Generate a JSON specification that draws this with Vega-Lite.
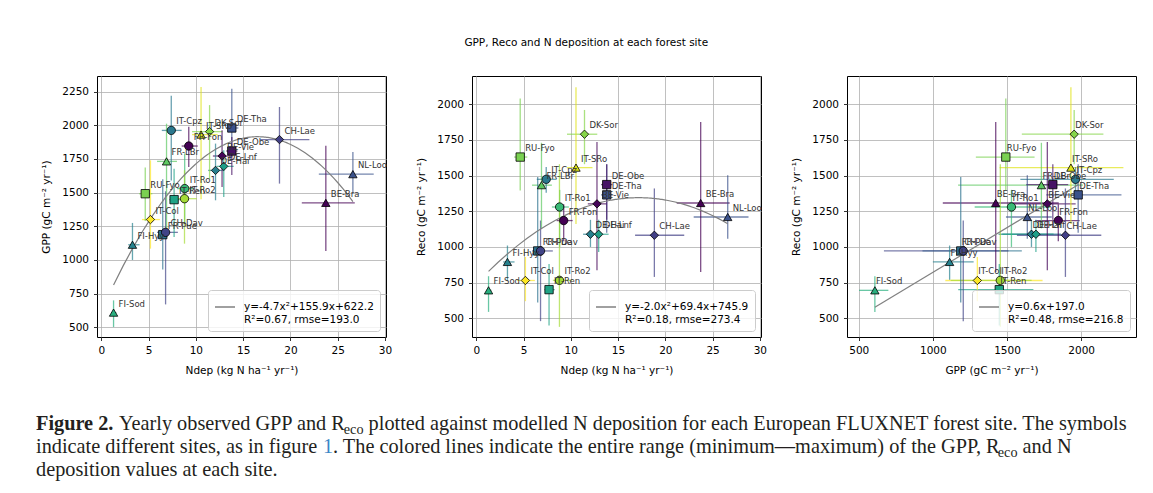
{
  "$schema": "https://vega.github.io/schema/vega-lite/v6.json",
  "autosize": {"type": "pad"},
  "padding": {"left": 36, "top": 38, "right": 5, "bottom": 5},
  "background": "white",
  "title": {"text": "GPP, Reco and N deposition at each forest site", "anchor": "middle", "frame": "bounds", "offset": 27, "fontSize": 10.5, "font": "DejaVu Sans", "fontWeight": "normal", "color": "#000"},
  "datasets": {
    "sites": [
      {"site": "FI-Sod", "ndep": 1.3, "nmin": 1.05, "nmax": 1.6, "gpp": 609, "gmin": 502, "gmax": 700, "reco": 696, "rmin": 545, "rmax": 795},
      {"site": "FI-Hyy", "ndep": 3.3, "nmin": 2.85, "nmax": 4.05, "gpp": 1113, "gmin": 1000, "gmax": 1275, "reco": 895, "rmin": 770, "rmax": 1010},
      {"site": "IT-Col", "ndep": 5.2, "nmin": 4.3, "nmax": 6.2, "gpp": 1300, "gmin": 1084, "gmax": 1740, "reco": 765, "rmin": 620, "rmax": 930},
      {"site": "RU-Fyo", "ndep": 4.65, "nmin": 4.0, "nmax": 5.4, "gpp": 1492, "gmin": 1290, "gmax": 1686, "reco": 1630, "rmin": 1395, "rmax": 2040},
      {"site": "FR-Pue", "ndep": 6.5, "nmin": 6.0, "nmax": 7.0, "gpp": 1188, "gmin": 930, "gmax": 1600, "reco": 972, "rmin": 610, "rmax": 1490},
      {"site": "CH-Dav", "ndep": 6.8, "nmin": 5.9, "nmax": 8.1, "gpp": 1205, "gmin": 670, "gmax": 1510, "reco": 972, "rmin": 480, "rmax": 1185},
      {"site": "IT-Cpz", "ndep": 7.4, "nmin": 6.4, "nmax": 8.5, "gpp": 1962, "gmin": 1590, "gmax": 2220, "reco": 1474, "rmin": 1380, "rmax": 1560},
      {"site": "FR-LBr", "ndep": 6.9, "nmin": 5.9, "nmax": 8.0, "gpp": 1732, "gmin": 1170, "gmax": 2012, "reco": 1433, "rmin": 1130, "rmax": 1730},
      {"site": "IT-SRo", "ndep": 10.55, "nmin": 9.6, "nmax": 12.3, "gpp": 1931, "gmin": 1450, "gmax": 2285, "reco": 1556, "rmin": 1160, "rmax": 2120},
      {"site": "DK-Sor", "ndep": 11.45, "nmin": 9.6, "nmax": 12.8, "gpp": 1953, "gmin": 1600, "gmax": 2150, "reco": 1790, "rmin": 1580, "rmax": 1960},
      {"site": "FR-Fon", "ndep": 9.25, "nmin": 8.5, "nmax": 10.2, "gpp": 1846, "gmin": 1690, "gmax": 1990, "reco": 1185, "rmin": 1040, "rmax": 1300},
      {"site": "DE-Tha", "ndep": 13.8, "nmin": 13.2, "nmax": 14.5, "gpp": 1980, "gmin": 1765, "gmax": 2272, "reco": 1365, "rmin": 1100, "rmax": 1580},
      {"site": "DE-Obe", "ndep": 13.8, "nmin": 13.2, "nmax": 14.4, "gpp": 1809, "gmin": 1630, "gmax": 1913, "reco": 1437, "rmin": 1190, "rmax": 1580},
      {"site": "BE-Vie", "ndep": 12.77, "nmin": 11.8, "nmax": 13.8, "gpp": 1772, "gmin": 1542, "gmax": 1963, "reco": 1302, "rmin": 836, "rmax": 1736},
      {"site": "DE-Hai", "ndep": 12.08, "nmin": 11.3, "nmax": 13.0, "gpp": 1665, "gmin": 1443, "gmax": 1864, "reco": 1089, "rmin": 1000, "rmax": 1190},
      {"site": "DE-Lnf", "ndep": 12.95, "nmin": 12.2, "nmax": 14.0, "gpp": 1695, "gmin": 1468, "gmax": 1814, "reco": 1089, "rmin": 965, "rmax": 1190},
      {"site": "IT-Ro1", "ndep": 8.82, "nmin": 8.0, "nmax": 9.8, "gpp": 1530, "gmin": 1282, "gmax": 1790, "reco": 1280, "rmin": 1000, "rmax": 1400},
      {"site": "IT-Ro2", "ndep": 8.8, "nmin": 8.1, "nmax": 10.1, "gpp": 1455, "gmin": 1121, "gmax": 1666, "reco": 766, "rmin": 440, "rmax": 1580},
      {"site": "IT-Ren", "ndep": 7.7, "nmin": 7.2, "nmax": 8.3, "gpp": 1448, "gmin": 1171, "gmax": 1678, "reco": 701, "rmin": 450, "rmax": 880},
      {"site": "CH-Lae", "ndep": 18.84, "nmin": 16.8, "nmax": 22.0, "gpp": 1894, "gmin": 1567, "gmax": 2136, "reco": 1082, "rmin": 790, "rmax": 1410},
      {"site": "BE-Bra", "ndep": 23.74, "nmin": 21.2, "nmax": 26.8, "gpp": 1424, "gmin": 1067, "gmax": 1849, "reco": 1308, "rmin": 825, "rmax": 1876},
      {"site": "NL-Loo", "ndep": 26.6, "nmin": 23.0, "nmax": 28.8, "gpp": 1637, "gmin": 1493, "gmax": 1802, "reco": 1210, "rmin": 1058, "rmax": 1502}
    ],
    "caption": [
      {"line": 1, "seg": "a", "text": "Figure 2."},
      {"line": 1, "seg": "b", "text": "Yearly observed GPP and R"},
      {"line": 1, "seg": "c", "text": "eco"},
      {"line": 1, "seg": "d", "text": "plotted against modelled N deposition for each European FLUXNET forest site. The symbols"},
      {"line": 2, "seg": "s", "text": "indicate different sites, as in figure"},
      {"line": 2, "seg": "e", "text": "1"},
      {"line": 2, "seg": "f", "text": ". The colored lines indicate the entire range (minimum—maximum) of the GPP, R"},
      {"line": 2, "seg": "g", "text": "eco"},
      {"line": 2, "seg": "h", "text": "and N"},
      {"line": 3, "seg": "s", "text": "deposition values at each site."}
    ]
  },
  "spacing": 37,
  "vconcat": [
    {
      "bounds": "flush",
      "spacing": 86,
      "resolve": {"scale": {"stroke": "independent"}, "legend": {"stroke": "independent"}},
      "hconcat": [
        {
          "width": 289, "height": 261,
          "data": {"name": "sites"},
          "encoding": {
            "x": {"field": "ndep", "type": "quantitative", "title": "Ndep (kg N ha⁻¹ yr⁻¹)", "scale": {"domain": [-0.45, 30.1], "nice": false, "zero": false}, "axis": {"values": [0, 5, 10, 15, 20, 25, 30], "format": "d"}},
            "y": {"field": "gpp", "type": "quantitative", "title": "GPP (gC m⁻² yr⁻¹)", "scale": {"domain": [428, 2366], "nice": false, "zero": false}, "axis": {"values": [500, 750, 1000, 1250, 1500, 1750, 2000, 2250], "format": "d"}}
          },
          "layer": [
            {"mark": {"type": "rule", "strokeWidth": 1.3, "opacity": 0.7},
             "encoding": {"x": {"field": "nmin", "type": "quantitative", "title": "Ndep (kg N ha⁻¹ yr⁻¹)"}, "x2": {"field": "nmax"},
               "color": {"field": "site", "type": "nominal", "legend": null, "scale": {"domain": ["FI-Sod","FI-Hyy","IT-Col","RU-Fyo","FR-Pue","CH-Dav","IT-Cpz","FR-LBr","IT-SRo","DK-Sor","FR-Fon","DE-Tha","DE-Obe","BE-Vie","DE-Hai","DE-Lnf","IT-Ro1","IT-Ro2","IT-Ren","CH-Lae","BE-Bra","NL-Loo"], "range": ["#29af7f","#26828e","#fde725","#7ad151","#2c728e","#414487","#2a788e","#5ec962","#dfe318","#86d549","#440154","#3b528b","#471365","#450559","#277f8e","#1f9f88","#3aba76","#a5db36","#20a386","#424086","#440154","#3b528b"]}}}},
            {"mark": {"type": "rule", "strokeWidth": 1.3, "opacity": 0.7},
             "encoding": {"y": {"field": "gmin", "type": "quantitative", "title": "GPP (gC m⁻² yr⁻¹)"}, "y2": {"field": "gmax"},
               "color": {"field": "site", "type": "nominal", "legend": null}}},
            {"transform": [{"regression": "gpp", "on": "ndep", "method": "poly", "order": 2}],
             "mark": {"type": "line", "strokeWidth": 1.2},
             "encoding": {"stroke": {"datum": "y=-4.7x²+155.9x+622.2|R²=0.67, rmse=193.0", "type": "nominal", "scale": {"range": ["#808080"]},
               "legend": {"orient": "bottom-right", "title": null, "labelExpr": "split(datum.label, '|')", "symbolType": "stroke", "symbolSize": 400, "symbolStrokeWidth": 1.5, "labelFontSize": 10.5, "labelFont": "DejaVu Sans", "labelColor": "#000", "labelOffset": 8, "fillColor": "rgba(255,255,255,0.8)", "strokeColor": "#cccccc", "cornerRadius": 3, "padding": 6, "offset": 6}}}},
            {"mark": {"type": "point", "filled": true, "size": 70, "stroke": "#000", "strokeWidth": 0.8, "opacity": 1},
             "encoding": {
               "fill": {"field": "site", "type": "nominal", "legend": null, "scale": {"domain": ["FI-Sod","FI-Hyy","IT-Col","RU-Fyo","FR-Pue","CH-Dav","IT-Cpz","FR-LBr","IT-SRo","DK-Sor","FR-Fon","DE-Tha","DE-Obe","BE-Vie","DE-Hai","DE-Lnf","IT-Ro1","IT-Ro2","IT-Ren","CH-Lae","BE-Bra","NL-Loo"], "range": ["#29af7f","#26828e","#fde725","#7ad151","#2c728e","#414487","#2a788e","#5ec962","#dfe318","#86d549","#440154","#3b528b","#471365","#450559","#277f8e","#1f9f88","#3aba76","#a5db36","#20a386","#424086","#440154","#3b528b"]}},
               "shape": {"field": "site", "type": "nominal", "legend": null, "scale": {"domain": ["FI-Sod","FI-Hyy","IT-Col","RU-Fyo","FR-Pue","CH-Dav","IT-Cpz","FR-LBr","IT-SRo","DK-Sor","FR-Fon","DE-Tha","DE-Obe","BE-Vie","DE-Hai","DE-Lnf","IT-Ro1","IT-Ro2","IT-Ren","CH-Lae","BE-Bra","NL-Loo"], "range": ["triangle-up","triangle-up","diamond","square","square","circle","circle","triangle-up","triangle-up","diamond","circle","square","square","diamond","diamond","diamond","circle","circle","square","diamond","triangle-up","triangle-up"]}}}},
            {"mark": {"type": "text", "align": "left", "baseline": "alphabetic", "dx": 5, "dy": -6, "fontSize": 8.5, "font": "DejaVu Sans", "color": "#333"},
             "encoding": {"text": {"field": "site"}}}
          ]
        },
        {
          "width": 289, "height": 261,
          "data": {"name": "sites"},
          "encoding": {
            "x": {"field": "ndep", "type": "quantitative", "title": "Ndep (kg N ha⁻¹ yr⁻¹)", "scale": {"domain": [-0.45, 30.12], "nice": false, "zero": false}, "axis": {"values": [0, 5, 10, 15, 20, 25, 30], "format": "d"}},
            "y": {"field": "reco", "type": "quantitative", "title": "Reco (gC m⁻² yr⁻¹)", "scale": {"domain": [369, 2198], "nice": false, "zero": false}, "axis": {"values": [500, 750, 1000, 1250, 1500, 1750, 2000], "format": "d"}}
          },
          "layer": [
            {"mark": {"type": "rule", "strokeWidth": 1.3, "opacity": 0.7},
             "encoding": {"x": {"field": "nmin", "type": "quantitative", "title": "Ndep (kg N ha⁻¹ yr⁻¹)"}, "x2": {"field": "nmax"},
               "color": {"field": "site", "type": "nominal", "legend": null}}},
            {"mark": {"type": "rule", "strokeWidth": 1.3, "opacity": 0.7},
             "encoding": {"y": {"field": "rmin", "type": "quantitative", "title": "Reco (gC m⁻² yr⁻¹)"}, "y2": {"field": "rmax"},
               "color": {"field": "site", "type": "nominal", "legend": null}}},
            {"transform": [{"regression": "reco", "on": "ndep", "method": "poly", "order": 2}],
             "mark": {"type": "line", "strokeWidth": 1.2},
             "encoding": {"stroke": {"datum": "y=-2.0x²+69.4x+745.9|R²=0.18, rmse=273.4", "type": "nominal", "scale": {"range": ["#808080"]},
               "legend": {"orient": "bottom-right", "title": null, "labelExpr": "split(datum.label, '|')", "symbolType": "stroke", "symbolSize": 400, "symbolStrokeWidth": 1.5, "labelFontSize": 10.5, "labelFont": "DejaVu Sans", "labelColor": "#000", "labelOffset": 8, "fillColor": "rgba(255,255,255,0.8)", "strokeColor": "#cccccc", "cornerRadius": 3, "padding": 6, "offset": 6}}}},
            {"mark": {"type": "point", "filled": true, "size": 70, "stroke": "#000", "strokeWidth": 0.8, "opacity": 1},
             "encoding": {"fill": {"field": "site", "type": "nominal", "legend": null}, "shape": {"field": "site", "type": "nominal", "legend": null}}},
            {"mark": {"type": "text", "align": "left", "baseline": "alphabetic", "dx": 5, "dy": -6, "fontSize": 8.5, "font": "DejaVu Sans", "color": "#333"},
             "encoding": {"text": {"field": "site"}}}
          ]
        },
        {
          "width": 289, "height": 261,
          "data": {"name": "sites"},
          "encoding": {
            "x": {"field": "gpp", "type": "quantitative", "title": "GPP (gC m⁻² yr⁻¹)", "scale": {"domain": [421, 2370], "nice": false, "zero": false}, "axis": {"values": [500, 1000, 1500, 2000], "format": "d"}},
            "y": {"field": "reco", "type": "quantitative", "title": "Reco (gC m⁻² yr⁻¹)", "scale": {"domain": [369, 2198], "nice": false, "zero": false}, "axis": {"values": [500, 750, 1000, 1250, 1500, 1750, 2000], "format": "d"}}
          },
          "layer": [
            {"mark": {"type": "rule", "strokeWidth": 1.3, "opacity": 0.7},
             "encoding": {"x": {"field": "gmin", "type": "quantitative", "title": "GPP (gC m⁻² yr⁻¹)"}, "x2": {"field": "gmax"},
               "color": {"field": "site", "type": "nominal", "legend": null}}},
            {"mark": {"type": "rule", "strokeWidth": 1.3, "opacity": 0.7},
             "encoding": {"y": {"field": "rmin", "type": "quantitative", "title": "Reco (gC m⁻² yr⁻¹)"}, "y2": {"field": "rmax"},
               "color": {"field": "site", "type": "nominal", "legend": null}}},
            {"transform": [{"regression": "reco", "on": "gpp", "method": "linear"}],
             "mark": {"type": "line", "strokeWidth": 1.2},
             "encoding": {"stroke": {"datum": "y=0.6x+197.0|R²=0.48, rmse=216.8", "type": "nominal", "scale": {"range": ["#808080"]},
               "legend": {"orient": "bottom-right", "title": null, "labelExpr": "split(datum.label, '|')", "symbolType": "stroke", "symbolSize": 400, "symbolStrokeWidth": 1.5, "labelFontSize": 10.5, "labelFont": "DejaVu Sans", "labelColor": "#000", "labelOffset": 8, "fillColor": "rgba(255,255,255,0.8)", "strokeColor": "#cccccc", "cornerRadius": 3, "padding": 6, "offset": 6}}}},
            {"mark": {"type": "point", "filled": true, "size": 70, "stroke": "#000", "strokeWidth": 0.8, "opacity": 1},
             "encoding": {"fill": {"field": "site", "type": "nominal", "legend": null}, "shape": {"field": "site", "type": "nominal", "legend": null}}},
            {"mark": {"type": "text", "align": "left", "baseline": "alphabetic", "dx": 1, "dy": -6, "fontSize": 8.5, "font": "DejaVu Sans", "color": "#333"},
             "encoding": {"text": {"field": "site"}}}
          ]
        }
      ]
    },
    {
      "width": 1039, "height": 69,
      "view": {"stroke": null},
      "data": {"name": "caption"},
      "encoding": {
        "x": {"datum": 0, "type": "quantitative", "scale": {"domain": [0, 1]}, "axis": null},
        "y": {"field": "line", "type": "ordinal", "axis": null, "scale": {"padding": 0.5}},
        "text": {"field": "text"}
      },
      "layer": [
        {"transform": [{"filter": "datum.seg == 'a'"}], "mark": {"type": "text", "align": "left", "baseline": "alphabetic", "font": "Liberation Serif", "fontSize": 20.3, "fontWeight": "bold", "dx": -61, "color": "#231f20"}},
        {"transform": [{"filter": "datum.seg == 'b'"}], "mark": {"type": "text", "align": "left", "baseline": "alphabetic", "font": "Liberation Serif", "fontSize": 20.3, "dx": 21.9, "color": "#231f20"}},
        {"transform": [{"filter": "datum.seg == 'c'"}], "mark": {"type": "text", "align": "left", "baseline": "alphabetic", "font": "Liberation Serif", "fontSize": 14.2, "dx": 246.8, "dy": 4, "color": "#231f20"}},
        {"transform": [{"filter": "datum.seg == 'd'"}], "mark": {"type": "text", "align": "left", "baseline": "alphabetic", "font": "Liberation Serif", "fontSize": 20.3, "dx": 271.6, "color": "#231f20"}},
        {"transform": [{"filter": "datum.seg == 's'"}], "mark": {"type": "text", "align": "left", "baseline": "alphabetic", "font": "Liberation Serif", "fontSize": 20.3, "dx": -61, "color": "#231f20"}},
        {"transform": [{"filter": "datum.seg == 'e'"}], "mark": {"type": "text", "align": "left", "baseline": "alphabetic", "font": "Liberation Serif", "fontSize": 20.3, "dx": 225.9, "color": "#3b86c6"}},
        {"transform": [{"filter": "datum.seg == 'f'"}], "mark": {"type": "text", "align": "left", "baseline": "alphabetic", "font": "Liberation Serif", "fontSize": 20.3, "dx": 236.1, "color": "#231f20"}},
        {"transform": [{"filter": "datum.seg == 'g'"}], "mark": {"type": "text", "align": "left", "baseline": "alphabetic", "font": "Liberation Serif", "fontSize": 14.2, "dx": 900.8, "dy": 4, "color": "#231f20"}},
        {"transform": [{"filter": "datum.seg == 'h'"}], "mark": {"type": "text", "align": "left", "baseline": "alphabetic", "font": "Liberation Serif", "fontSize": 20.3, "dx": 925.6, "color": "#231f20"}}
      ]
    }
  ],
  "config": {
    "view": {"stroke": "#000", "strokeWidth": 1},
    "axis": {"labelFont": "DejaVu Sans", "labelFontSize": 10.5, "labelColor": "#000", "titleFont": "DejaVu Sans", "titleFontSize": 10.5, "titleFontWeight": "normal", "titleColor": "#000", "tickColor": "#000", "tickSize": 3.5, "tickWidth": 0.8, "domain": false, "gridColor": "#b0b0b0", "gridWidth": 0.8, "labelPadding": 5, "labelFlush": false, "labelOverlap": false},
    "axisX": {"titlePadding": 9},
    "axisY": {"titlePadding": 10}
  }
}
